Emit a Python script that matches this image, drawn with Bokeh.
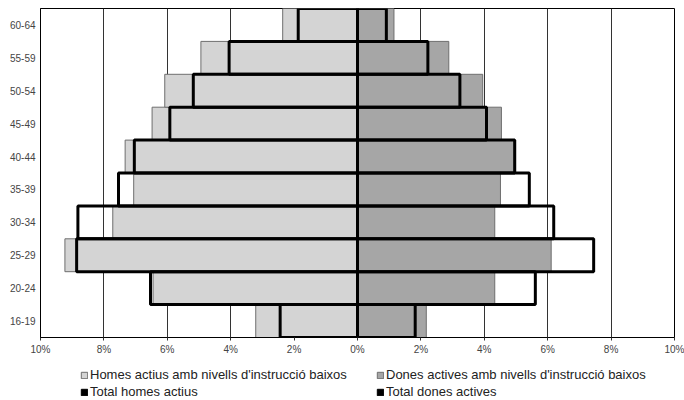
from bokeh.plotting import figure
from bokeh.models import Range1d, FactorRange, FixedTicker, Legend, LegendItem
from bokeh.layouts import column
from bokeh.embed import file_html
from bokeh.resources import INLINE

# ---- data (percent of active population) ----
ages = ["16-19", "20-24", "25-29", "30-34", "35-39", "40-44", "45-49", "50-54", "55-59", "60-64"]
homes_low = [3.21, 6.45, 9.23, 7.72, 7.06, 7.33, 6.48, 6.08, 4.94, 2.36]
homes_total = [2.44, 6.53, 8.86, 8.82, 7.54, 7.04, 5.92, 5.18, 4.05, 1.87]
dones_low = [2.17, 4.33, 6.11, 4.33, 4.51, 4.93, 4.54, 3.95, 2.88, 1.15]
dones_total = [1.82, 5.61, 7.45, 6.19, 5.42, 4.96, 4.07, 3.23, 2.22, 0.91]
tick_values = [-10, -8, -6, -4, -2, 0, 2, 4, 6, 8, 10]
tick_labels = ["10%", "8%", "6%", "4%", "2%", "0%", "2%", "4%", "6%", "8%", "10%"]
legend_labels = ["Homes actius amb nivells d'instrucció baixos",
                 "Dones actives amb nivells d'instrucció baixos",
                 "Total homes actius",
                 "Total dones actives"]

homes_low_neg = [-v for v in homes_low]
homes_total_neg = [-v for v in homes_total]

FONT = "Liberation Sans"
LIGHT = "#d4d4d4"
DARK = "#a6a6a6"
EDGE = "#6e6e6e"

p = figure(
    x_range=Range1d(-10, 10),
    y_range=FactorRange(*ages, range_padding=0),
    frame_width=634, frame_height=329,
    min_border_left=40, min_border_right=10, min_border_top=8, min_border_bottom=19,
    output_backend="svg", toolbar_location=None,
)

p.hbar(y=ages, left=homes_low_neg, right=0, height=1,
       fill_color=LIGHT, line_color=EDGE, line_width=1)
p.hbar(y=ages, left=0, right=dones_low, height=1,
       fill_color=DARK, line_color=EDGE, line_width=1)
p.hbar(y=ages, left=homes_total_neg, right=0, height=1,
       fill_color=None, line_color="black", line_width=3)
p.hbar(y=ages, left=0, right=dones_total, height=1,
       fill_color=None, line_color="black", line_width=3)

# axes
p.xaxis.ticker = FixedTicker(ticks=tick_values)
p.xaxis.major_label_overrides = {t: l for t, l in zip(tick_values, tick_labels)}
p.xaxis.major_tick_in = 0
p.xaxis.major_tick_out = 3
p.xaxis.minor_tick_line_color = None
p.xaxis.axis_line_color = "black"
p.xaxis.major_tick_line_color = "#333333"
p.xaxis.major_label_text_font = FONT
p.xaxis.major_label_text_font_size = "10px"
p.xaxis.major_label_text_color = "#444444"
p.xaxis.major_label_standoff = 3

p.yaxis.major_tick_line_color = None
p.yaxis.major_tick_out = 0
p.yaxis.major_tick_in = 0
p.yaxis.minor_tick_line_color = None
p.yaxis.axis_line_color = "black"
p.yaxis.major_label_text_font = FONT
p.yaxis.major_label_text_font_size = "10px"
p.yaxis.major_label_text_color = "#444444"
p.yaxis.major_label_standoff = 5

p.xgrid.grid_line_color = "#333333"
p.xgrid.grid_line_width = 1
p.ygrid.grid_line_color = None

p.outline_line_color = "black"
p.outline_line_width = 1
p.background_fill_color = "white"
p.border_fill_color = "white"

# ---- legend strip below the chart (hidden key proxies, only for the legend swatches) ----
q = figure(width=684, height=44, x_axis_type=None, y_axis_type=None,
           min_border=0, output_backend="svg", toolbar_location=None)
q.outline_line_color = None
key = dict(y=[0], left=[0], right=[0], height=1, visible=False)
k_hl = q.hbar(fill_color=LIGHT, line_color=EDGE, line_width=1, **key)
k_dl = q.hbar(fill_color=DARK, line_color=EDGE, line_width=1, **key)
k_ht = q.hbar(fill_color="black", line_color="black", line_width=1, **key)
k_dt = q.hbar(fill_color="black", line_color="black", line_width=1, **key)

legend = Legend(
    items=[LegendItem(label=legend_labels[0], renderers=[k_hl]),
           LegendItem(label=legend_labels[1], renderers=[k_dl]),
           LegendItem(label=legend_labels[2], renderers=[k_ht]),
           LegendItem(label=legend_labels[3], renderers=[k_dt])],
    orientation="horizontal", ncols=2,
    location=(40, 2),
    glyph_width=8, glyph_height=8, label_height=8, label_width=284,
    label_standoff=2, spacing=2, padding=0, margin=0,
    label_text_font=FONT, label_text_font_size="13px", label_text_color="#222222",
    border_line_color=None, background_fill_alpha=0,
)
q.add_layout(legend, "center")

layout = column(p, q, spacing=0)
open("out.html", "w").write(file_html(layout, INLINE))
